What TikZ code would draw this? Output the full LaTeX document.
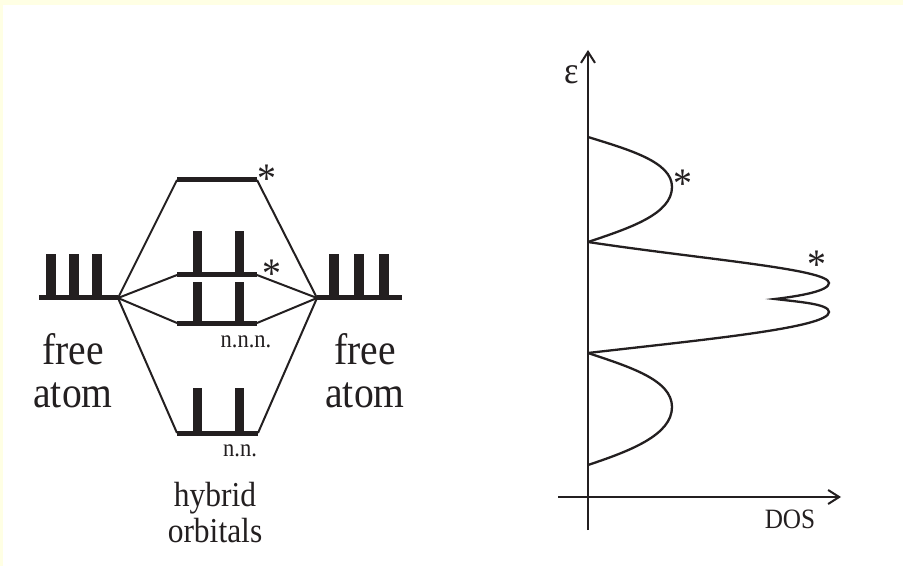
\documentclass[tikz,border=0pt]{standalone}
\usepackage{fontspec}
\setmainfont{Liberation Serif}[FakeStretch=0.9]
\usetikzlibrary{arrows.meta}
\definecolor{paleyellow}{RGB}{255,255,228}
\definecolor{ink}{RGB}{35,31,32}
\tikzset{
  level/.style={draw=ink, line width=5pt, line cap=butt},
  bar/.style={draw=ink, line width=9.5pt, line cap=butt},
  link/.style={draw=ink, line width=2pt, line join=round},
  axis/.style={draw=ink, line width=2.2pt, -{Straight Barb[length=11pt,width=14pt,line width=2pt]}},
  curve/.style={draw=ink, line width=2.3pt},
  bigtxt/.style={text=ink, inner sep=0pt, anchor=base, font=\fontsize{44}{43}\selectfont},
  midtxt/.style={text=ink, inner sep=0pt, anchor=base, font=\fontsize{35}{36}\selectfont},
  smalltxt/.style={text=ink, inner sep=0pt, anchor=base, font=\fontsize{25}{26}\selectfont},
  startxt/.style={text=ink, inner sep=0pt, anchor=center, font=\fontsize{42}{42}\selectfont},
}
\begin{document}
\begin{tikzpicture}[x=1pt,y=1pt]
\useasboundingbox (0,0) rectangle (903,566);
\fill[paleyellow] (0,0) rectangle (903,566);
\fill[white] (3,0) rectangle (903,561);

% ---------- left: free atoms ----------
\coordinate (LA0) at (39,268);
\coordinate (LA) at (118,268);
\coordinate (RA) at (317,268);
\coordinate (RA1) at (402,268);
\draw[level] (LA0) -- (LA);
\draw[level] (RA) -- (RA1);
\foreach \x in {51,74,97} \draw[bar] (\x,268) -- (\x,312);
\foreach \x in {334,359,384} \draw[bar] (\x,268) -- (\x,312);

% ---------- hybrid levels ----------
\coordinate (T1) at (177,386);  \coordinate (T2) at (257,386);
\coordinate (U1) at (177,291);  \coordinate (U2) at (257,291);
\coordinate (L1) at (177,243);  \coordinate (L2) at (257,243);
\coordinate (B1) at (177,133);  \coordinate (B2) at (258,133);
\draw[level] (T1) -- (T2);
\draw[level] (U1) -- (U2);
\draw[level] (L1) -- (L2);
\draw[level] (B1) -- (B2);
\foreach \x in {197.5,239.5} {
  \draw[bar] (\x,291) -- (\x,335);
  \draw[bar] (\x,243) -- (\x,284);
  \draw[bar] (\x,133) -- (\x,178);
}

% connectors
\draw[link] (LA) -- (T1);
\draw[link] (LA) -- (U1);
\draw[link] (LA) -- (L1);
\draw[link] (LA) -- (B1);
\draw[link] (T2) -- (RA);
\draw[link] (U2) -- (RA);
\draw[link] (L2) -- (RA);
\draw[link] (B2) -- (RA);

% labels
\node[startxt] (s1) at (267,387) {*};
\node[startxt] (s2) at (272,292) {*};
\node[smalltxt] (nnn) at (246,219) {n.n.n.};
\node[smalltxt] (nn) at (240,110) {n.n.};
\node[bigtxt] (free1) at (73,202) {free};
\node[bigtxt] (atom1) at (73,159) {atom};
\node[bigtxt] (free2) at (365,202) {free};
\node[bigtxt] (atom2) at (365,159) {atom};
\node[midtxt] (hyb) at (215,60) {hybrid};
\node[midtxt] (orb) at (215,24) {orbitals};

% ---------- right: DOS ----------
\coordinate (O) at (588,69);
\coordinate (Ybot) at (588,36);
\coordinate (Ytop) at (588,516);
\coordinate (Xl) at (558,69);
\coordinate (Xr) at (841,69);
\draw[axis] (Ybot) -- (Ytop);
\draw[axis] (Xl) -- (Xr);
\node[text=ink, inner sep=0pt, anchor=base, font=\fontsize{38}{38}\selectfont] (eps) at (572,482) {ε};
\node[text=ink, inner sep=0pt, anchor=base, font=\fontsize{28}{28}\selectfont] (dos) at (790,38) {DOS};

\coordinate (a0) at (588,429);
\coordinate (a1) at (588,324);
\coordinate (a2) at (588,213);
\coordinate (a3) at (588,101);
\draw[curve] (a0) .. controls (630,416) and (672,404) .. (672,379)
  .. controls (672,352) and (630,338) .. (a1);
\draw[curve] (a1) .. controls (700,307) and (829,297) .. (829,283)
  .. controls (829,275) and (800,270) .. (775,267)
  .. controls (800,264) and (829,262) .. (829,254)
  .. controls (829,238) and (700,226) .. (a2);
\draw[curve] (a2) .. controls (630,199) and (672,186) .. (672,159)
  .. controls (672,131) and (630,115) .. (a3);
\node[startxt] (s3) at (683,382) {*};
\node[startxt] (s4) at (817,301) {*};
\end{tikzpicture}
\end{document}
